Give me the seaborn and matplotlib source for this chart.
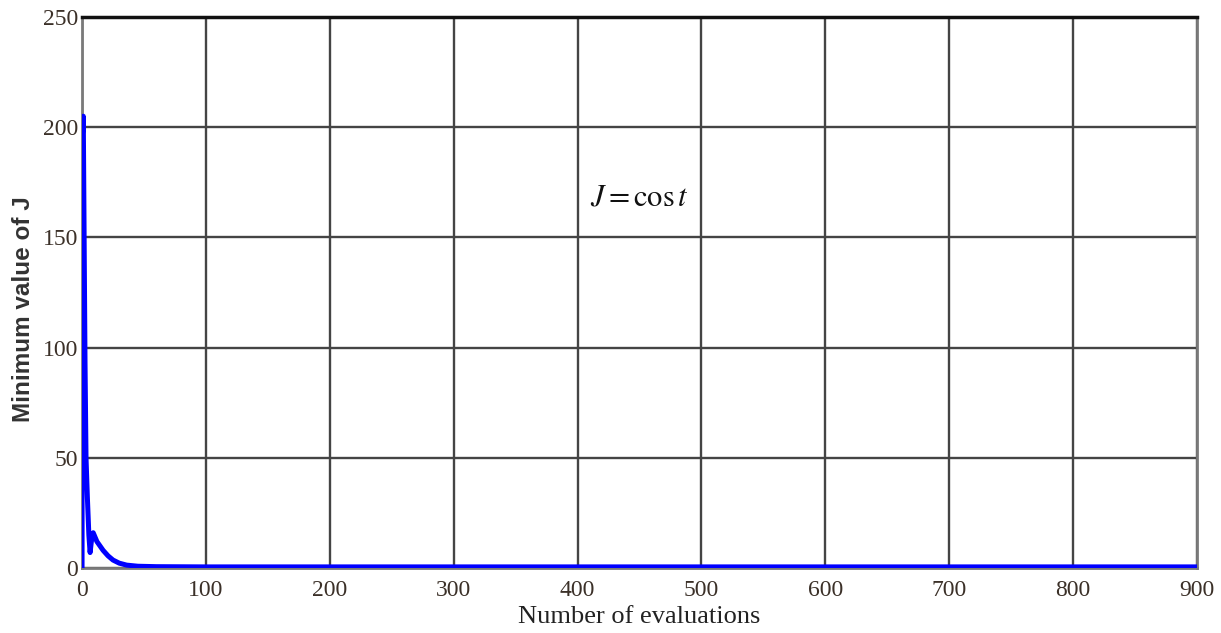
import matplotlib
matplotlib.use("Agg")
import matplotlib.pyplot as plt
import seaborn as sns
import pandas as pd

# Convergence history: best cost found vs. number of evaluations
evaluations = [0, 0.2, 1, 1.6, 2.4, 3.2, 4.3, 5.5, 6.5, 7.5, 9, 12, 17, 21, 25,
               30, 36, 45, 60, 100, 200, 400, 600, 800, 900]
min_cost = [0, 195, 205, 156, 93, 50, 32, 15, 7, 12, 16, 12, 8, 5.5, 3.6,
            2.2, 1.3, 0.8, 0.6, 0.5, 0.5, 0.5, 0.5, 0.5, 0.5]

x_ticks = [0, 100, 200, 300, 400, 500, 600, 700, 800, 900]
y_ticks = [0, 50, 100, 150, 200, 250]

df = pd.DataFrame({"evaluations": evaluations, "min_cost": min_cost})

sns.set_theme(style="white")
plt.rcParams["font.family"] = ["Liberation Serif", "DejaVu Serif"]
plt.rcParams["mathtext.fontset"] = "stix"

fig = plt.figure(figsize=(12.21, 6.33), dpi=100)
ax = fig.add_axes([0.0672, 0.1027, 0.9131, 0.8704])

sns.lineplot(data=df, x="evaluations", y="min_cost", ax=ax, color="#0000ff",
             linewidth=3.6, estimator=None, sort=False, zorder=3)

ax.set_xlim(0, 900)
ax.set_ylim(0, 250)
ax.set_xticks(x_ticks)
ax.set_yticks(y_ticks)
ax.grid(True, color="#444444", linewidth=1.7, zorder=1)
ax.set_axisbelow(True)

for side in ["left", "bottom", "right"]:
    ax.spines[side].set_color("#7a7a7a")
    ax.spines[side].set_linewidth(2)
ax.spines["top"].set_color("#111111")
ax.spines["top"].set_linewidth(2.5)

ax.tick_params(axis="both", labelsize=17, labelcolor="#3b3028", length=3,
               direction="in", color="#444444", pad=3)
ax.tick_params(axis="x", pad=9)

ax.set_xlabel("Number of evaluations", fontsize=19, color="#222222", labelpad=3)
ax.set_ylabel("Minimum value of J", fontsize=17.5, color="#333333",
              family=["Liberation Sans", "DejaVu Sans"], fontweight="bold")
ax.yaxis.set_label_coords(-0.042, 0.47)

ax.text(450, 168, r"$J = \cos t$", fontsize=22, color="#111111",
        ha="center", va="center")

fig.savefig("out.png", dpi=100, facecolor="white")
